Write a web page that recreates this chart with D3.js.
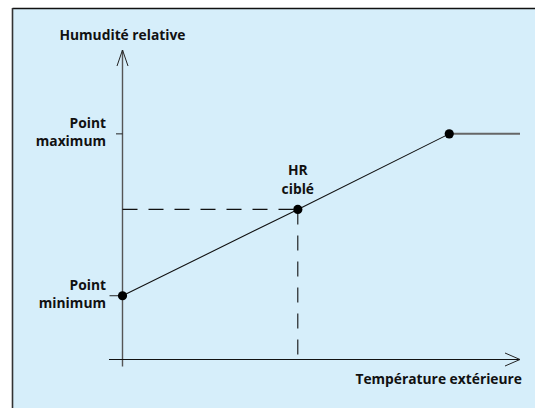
<!DOCTYPE html>
<html><head><meta charset="utf-8">
<script src="https://cdn.jsdelivr.net/npm/d3@7"></script>
<style>html,body{margin:0;padding:0;background:#fff;overflow:hidden}</style>
</head><body>
<script>
// Data (abstract units)
const curveX = [0, 4.41, 8.22];        // min, target, max (temperature)
const curveY = [2.06, 4.85, 7.29];     // relative humidity
const plateauX = [8.22, 10];           // flat part after max
const yTickValues = [7.29, 2.06];
const yTickLabels = [["Point", "maximum"], ["Point", "minimum"]];
const targetLabel = ["HR", "ciblé"];
const yAxisTitle = "Humudité relative";
const xAxisTitle = "Température extérieure";

const W = 535, H = 408;
const svg = d3.select("body").append("svg").attr("width", W).attr("height", H);
const font = "'Open Sans', sans-serif";

svg.append("rect").attr("x", 12.5).attr("y", 8.5).attr("width", W).attr("height", H)
  .attr("fill", "#d6eefa");
svg.append("line").attr("x1", 12.5).attr("x2", W).attr("y1", 8.5).attr("y2", 8.5)
  .attr("stroke", "#111").attr("stroke-width", 1.6);
svg.append("line").attr("x1", 12.5).attr("x2", 12.5).attr("y1", 8).attr("y2", H)
  .attr("stroke", "#333").attr("stroke-width", 1.6);

const x = d3.scaleLinear().domain([0, 10]).range([122.5, 520]);
const y = d3.scaleLinear().domain([0, 10]).range([359.5, 50]);

// y axis
svg.append("line").attr("x1", x(0)).attr("x2", x(0)).attr("y1", y(10)).attr("y2", y(-0.23))
  .attr("stroke", "#555").attr("stroke-width", 1.4);
svg.append("path").attr("d", d3.line()([[x(0)-5.5, y(10)+16],[x(0), y(10)],[x(0)+5.5, y(10)+16]]))
  .attr("fill", "none").attr("stroke", "#222").attr("stroke-width", 1);
// x axis
svg.append("line").attr("x1", x(-0.34)).attr("x2", x(10)).attr("y1", y(0)).attr("y2", y(0))
  .attr("stroke", "#111").attr("stroke-width", 1.1);
svg.append("path").attr("d", d3.line()([[x(10)-15, y(0)-6.5],[x(10), y(0)],[x(10)-15, y(0)+6.5]]))
  .attr("fill", "none").attr("stroke", "#222").attr("stroke-width", 1);

// ticks
svg.selectAll(".tick").data(yTickValues).join("line")
  .attr("x1", (d,i) => i === 0 ? x(0)-6.5 : x(0)-13).attr("x2", x(0))
  .attr("y1", d => y(d)).attr("y2", d => y(d))
  .attr("stroke", "#222").attr("stroke-width", 1);

// dashed guides
svg.append("line").attr("x1", x(0)).attr("x2", x(curveX[1])).attr("y1", y(curveY[1])).attr("y2", y(curveY[1]))
  .attr("stroke", "#111").attr("stroke-width", 1.1).attr("stroke-dasharray", "15,11");
svg.append("line").attr("x1", x(curveX[1])).attr("x2", x(curveX[1])).attr("y1", y(curveY[1])).attr("y2", y(0))
  .attr("stroke", "#111").attr("stroke-width", 1.1).attr("stroke-dasharray", "15,11");

// plateau
svg.append("line").attr("x1", x(plateauX[0])).attr("x2", x(plateauX[1]))
  .attr("y1", y(curveY[2])).attr("y2", y(curveY[2]))
  .attr("stroke", "#666").attr("stroke-width", 2);
// curve
const pts = curveX.map((d,i) => [x(d), y(curveY[i])]);
svg.append("path").attr("d", d3.line()(pts)).attr("fill", "none")
  .attr("stroke", "#111").attr("stroke-width", 1.1);
svg.selectAll(".dot").data(pts).join("circle")
  .attr("cx", d => d[0]).attr("cy", d => d[1]).attr("r", 4.6).attr("fill", "#000");

// labels
const txt = (t, px, py, anchor) => svg.append("text").text(t).attr("x", px).attr("y", py)
  .attr("text-anchor", anchor).attr("font-family", font).attr("font-weight", "bold")
  .attr("font-size", 13.8).attr("fill", "#111");

txt(yAxisTitle, x(0), 40, "middle");
yTickValues.forEach((v, i) => {
  txt(yTickLabels[i][0], 106, y(v) - 6, "end");
  txt(yTickLabels[i][1], 106, y(v) + 12.5, "end");
});
txt(targetLabel[0], x(curveX[1]), y(curveY[1]) - 34, "middle");
txt(targetLabel[1], x(curveX[1]), y(curveY[1]) - 15, "middle");
txt(xAxisTitle, 522, 384, "end");
</script>
</body></html>
